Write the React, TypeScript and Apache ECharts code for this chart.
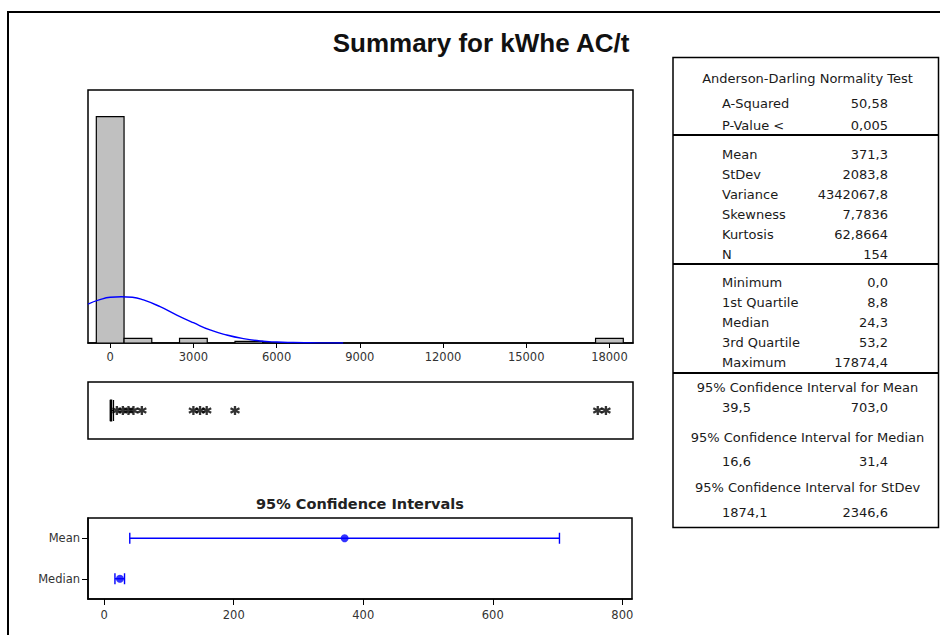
import React, { useEffect, useRef } from "react";
import * as echarts from "echarts";

// ---------- data ----------
const histBins = [0, 1000, 3000, 5000, 18000];
const histCounts = [144, 3, 3, 1, 3];
const binWidth = 1000;
const histTicks = [0, 3000, 6000, 9000, 12000, 15000, 18000];

const curveX = [-800, -400, 0, 400, 800, 1200, 1800, 2400, 3000, 3600, 4200, 4800, 5400, 6000, 6600, 7200, 7800, 8400];
const curveY = [24.8, 27.4, 29.1, 29.4, 29.1, 27.4, 23.1, 17.8, 12.9, 8.3, 5.1, 2.8, 1.3, 0.6, 0.3, 0.15, 0.05, 0.02];

const boxStats = [0, 8.8, 24.3, 53.2, 119.8];
const outliers = [241, 457, 659, 839, 1141, 3000, 3240, 3480, 4500, 17580, 17874];

const ciCategories = ["Median", "Mean"];
const ciLower = [16.6, 39.5];
const ciUpper = [31.4, 703.0];
const ciPoint = [24.3, 371.3];
const ciTicks = [0, 200, 400, 600, 800];

const mainTitle = "Summary for kWhe AC/t";
const ciTitle = "95% Confidence Intervals";
const adHeader = "Anderson-Darling Normality Test";
const adRows = [["A-Squared", "50,58"], ["P-Value <", "0,005"]];
const descRows = [
  ["Mean", "371,3"],
  ["StDev", "2083,8"],
  ["Variance", "4342067,8"],
  ["Skewness", "7,7836"],
  ["Kurtosis", "62,8664"],
  ["N", "154"],
];
const quantRows = [
  ["Minimum", "0,0"],
  ["1st Quartile", "8,8"],
  ["Median", "24,3"],
  ["3rd Quartile", "53,2"],
  ["Maximum", "17874,4"],
];
const ciHeaders = [
  "95% Confidence Interval for Mean",
  "95% Confidence Interval for Median",
  "95% Confidence Interval for StDev",
];
const ciRows = [["39,5", "703,0"], ["16,6", "31,4"], ["1874,1", "2346,6"]];

// ---------- layout ----------
const FONT = "DejaVu Sans";
const TXT = "#1a1a1a";
const BLUE = "#0000ff";
const asterisk = "path://M5,0L5,10M0.67,2.5L9.33,7.5M0.67,7.5L9.33,2.5";

function buildGraphics() {
  const g: any[] = [];
  const text = (t: string, x: number, y: number, align: string, extra: any = {}) =>
    g.push({
      type: "text",
      silent: true,
      z: 110,
      style: {
        text: t,
        x,
        y,
        textAlign: align,
        textVerticalAlign: "middle",
        fontFamily: FONT,
        fontSize: 13,
        fill: TXT,
        ...extra,
      },
    });
  // outer frame
  g.push({
    type: "rect",
    silent: true,
    z: 100,
    shape: { x: 8, y: 12, width: 1000, height: 1000 },
    style: { fill: "none", stroke: "#000", lineWidth: 2 },
  });
  text(mainTitle, 481, 43, "center", { fontFamily: "Liberation Sans", fontWeight: "bold", fontSize: 26, fill: "#111" });
  text(ciTitle, 360, 504, "center", { fontWeight: "bold", fontSize: 14.5, fill: "#222" });

  // table
  const tx0 = 673, tx1 = 938.5;
  g.push({
    type: "rect",
    silent: true,
    z: 100,
    shape: { x: tx0, y: 57.5, width: tx1 - tx0, height: 470 },
    style: { fill: "#fff", stroke: "#000", lineWidth: 1.5 },
  });
  [135, 264, 373].forEach((y) =>
    g.push({
      type: "line",
      silent: true,
      z: 101,
      shape: { x1: tx0, y1: y, x2: tx1, y2: y },
      style: { stroke: "#000", lineWidth: 2 },
    })
  );
  const cx = 807.5, lx = 722, rx = 888;
  text(adHeader, cx, 78, "center");
  const adY = [103, 125];
  adRows.forEach((r, i) => {
    text(r[0], lx, adY[i], "left");
    text(r[1], rx, adY[i], "right");
  });
  descRows.forEach((r, i) => {
    const y = 154 + i * 20.1;
    text(r[0], lx, y, "left");
    text(r[1], rx, y, "right");
  });
  quantRows.forEach((r, i) => {
    const y = 282.7 + i * 19.9;
    text(r[0], lx, y, "left");
    text(r[1], rx, y, "right");
  });
  const hY = [387, 437, 487];
  const vY = [407, 461, 512];
  ciHeaders.forEach((h, i) => {
    text(h, cx, hY[i], "center");
    text(ciRows[i][0], lx, vY[i], "left");
    text(ciRows[i][1], rx, vY[i], "right");
  });
  return g;
}

function buildOption(): any {
  const gridBase = { show: true, borderColor: "#000", borderWidth: 1.5, backgroundColor: "#fff", containLabel: false };
  const labelStyle = { color: "#333", fontSize: 11.5, fontFamily: FONT };
  return {
    animation: false,
    backgroundColor: "#fff",
    grid: [
      { ...gridBase, left: 88, top: 90, width: 545, height: 253 },
      { ...gridBase, left: 88, top: 382, width: 545, height: 57 },
      { ...gridBase, left: 88, top: 518, width: 544, height: 81 },
    ],
    xAxis: [
      {
        gridIndex: 0,
        type: "value",
        min: -800,
        max: 18850,
        splitLine: { show: false },
        axisLine: { show: true, onZero: false, lineStyle: { color: "#000", width: 1.5 } },
        axisTick: { show: true, length: 5, customValues: histTicks, lineStyle: { color: "#000", width: 1 } },
        axisLabel: { ...labelStyle, margin: 8, customValues: histTicks, formatter: (v: number) => String(v) },
      },
      { gridIndex: 1, type: "value", min: -800, max: 18850, show: false },
      {
        gridIndex: 2,
        type: "value",
        min: -25,
        max: 815,
        splitLine: { show: false },
        axisLine: { show: true, onZero: false, lineStyle: { color: "#000", width: 1.5 } },
        axisTick: { show: true, length: 6, customValues: ciTicks, lineStyle: { color: "#000", width: 1 } },
        axisLabel: { ...labelStyle, margin: 10, customValues: ciTicks, formatter: (v: number) => String(v) },
      },
    ],
    yAxis: [
      { gridIndex: 0, type: "value", min: 0, max: 161, show: false },
      { gridIndex: 1, type: "category", data: ["kWhe AC/t"], show: false },
      {
        gridIndex: 2,
        type: "category",
        data: ciCategories,
        axisLine: { show: true, onZero: false, lineStyle: { color: "#000", width: 1.5 } },
        axisTick: { show: true, length: 6, alignWithLabel: true, lineStyle: { color: "#000", width: 1 } },
        axisLabel: { ...labelStyle, margin: 8 },
        splitLine: { show: false },
      },
    ],
    series: [
      {
        type: "custom",
        xAxisIndex: 0,
        yAxisIndex: 0,
        data: histBins.map((b, i) => [b, histCounts[i]]),
        encode: { x: 0, y: 1 },
        clip: true,
        renderItem: (_p: any, api: any) => {
          const x = api.value(0);
          const c = api.value(1);
          const p0 = api.coord([x - binWidth / 2, c]);
          const p1 = api.coord([x + binWidth / 2, 0]);
          return {
            type: "rect",
            shape: { x: p0[0], y: p0[1], width: p1[0] - p0[0], height: p1[1] - p0[1] },
            style: { fill: "#c0c0c0", stroke: "#000", lineWidth: 1.2 },
          };
        },
        z: 2,
      },
      {
        type: "line",
        xAxisIndex: 0,
        yAxisIndex: 0,
        data: curveX.map((x, i) => [x, curveY[i]]),
        smooth: true,
        showSymbol: false,
        symbol: "none",
        lineStyle: { color: BLUE, width: 1.4 },
        z: 3,
      },
      {
        type: "boxplot",
        xAxisIndex: 1,
        yAxisIndex: 1,
        layout: "horizontal",
        data: [boxStats],
        boxWidth: [21, 21],
        itemStyle: { color: "#000", borderColor: "#000", borderWidth: 1.2 },
      },
      {
        type: "scatter",
        xAxisIndex: 1,
        yAxisIndex: 1,
        data: outliers.map((v) => [v, 0]),
        symbol: asterisk,
        symbolSize: 9,
        itemStyle: { color: "#000", borderColor: "#000", borderWidth: 2.3 },
      },
      {
        type: "custom",
        xAxisIndex: 2,
        yAxisIndex: 2,
        data: ciCategories.map((_c, i) => [ciLower[i], ciUpper[i], i]),
        encode: { x: [0, 1], y: 2 },
        renderItem: (_p: any, api: any) => {
          const idx = api.value(2);
          const pL = api.coord([api.value(0), idx]);
          const pH = api.coord([api.value(1), idx]);
          const h = 5.5;
          const st = { stroke: BLUE, lineWidth: 1.4 };
          return {
            type: "group",
            children: [
              { type: "line", shape: { x1: pL[0], y1: pL[1], x2: pH[0], y2: pH[1] }, style: st },
              { type: "line", shape: { x1: pL[0], y1: pL[1] - h, x2: pL[0], y2: pL[1] + h }, style: st },
              { type: "line", shape: { x1: pH[0], y1: pH[1] - h, x2: pH[0], y2: pH[1] + h }, style: st },
            ],
          };
        },
      },
      {
        type: "scatter",
        xAxisIndex: 2,
        yAxisIndex: 2,
        data: ciPoint.map((v, i) => [v, i]),
        symbol: "circle",
        symbolSize: 8,
        itemStyle: { color: BLUE },
        z: 5,
      },
    ],
    graphic: buildGraphics(),
  };
}

export default function App() {
  const ref = useRef<HTMLDivElement>(null);
  useEffect(() => {
    if (!ref.current) return;
    const chart = echarts.init(ref.current, undefined, { renderer: "svg" });
    chart.setOption(buildOption());
    return () => chart.dispose();
  }, []);
  return (
    <div
      ref={ref}
      style={{ position: "fixed", left: 0, top: 0, width: 940, height: 635, background: "#fff" }}
    />
  );
}
